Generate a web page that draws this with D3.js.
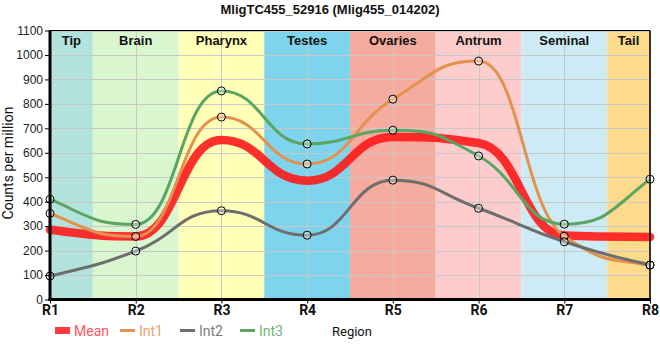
<!DOCTYPE html>
<html>
<head>
<meta charset="utf-8">
<script src="https://cdn.jsdelivr.net/npm/d3@7"></script>
<style>
  body { margin: 0; background: #fff; }
  svg { display: block; }
</style>
</head>
<body>
<svg id="chart" width="660" height="360"></svg>
<script>
const categories = ["R1", "R2", "R3", "R4", "R5", "R6", "R7", "R8"];
const regions = ["Tip", "Brain", "Pharynx", "Testes", "Ovaries", "Antrum", "Seminal", "Tail"];
const regionColors = ["#b3e3dd", "#d9f6cf", "#ffffb8", "#7dd4ec", "#f5ab9d", "#fdcccc", "#cdebf5", "#fdda8c"];
const meanValues = [285, 258, 652, 486, 665, 640, 262, 256];
const int1Values = [352, 258, 746, 554, 819, 975, 259, 140];
const int2Values = [96, 198, 363, 263, 488, 373, 236, 141];
const int3Values = [410, 307, 853, 636, 692, 587, 308, 492];
const yTicks = [0, 100, 200, 300, 400, 500, 600, 700, 800, 900, 1000, 1100];

// monotone smoothing curve with longer bezier handles (wider plateaus)
function SmoothMono(context, k) { this._context = context; this._k = k; }
SmoothMono.prototype = {
  areaStart() { this._line = 0; },
  areaEnd() { this._line = NaN; },
  lineStart() { this._xs = []; this._ys = []; },
  point(x, y) { this._xs.push(+x); this._ys.push(+y); },
  lineEnd() {
    const xs = this._xs, ys = this._ys, n = xs.length, ctx = this._context, k = this._k;
    if (!n) return;
    ctx.moveTo(xs[0], ys[0]);
    if (n === 1) return;
    if (n === 2) { ctx.lineTo(xs[1], ys[1]); return; }
    const s = [], m = [];
    for (let i = 0; i < n - 1; i++) s[i] = (ys[i + 1] - ys[i]) / (xs[i + 1] - xs[i]);
    for (let i = 1; i < n - 1; i++) {
      const h0 = xs[i] - xs[i - 1], h1 = xs[i + 1] - xs[i];
      const p = (s[i - 1] * h1 + s[i] * h0) / (h0 + h1);
      m[i] = (Math.sign(s[i - 1]) + Math.sign(s[i])) * Math.min(Math.abs(s[i - 1]), Math.abs(s[i]), 0.5 * Math.abs(p)) || 0;
    }
    m[0] = (3 * s[0] - m[1]) / 2;
    m[n - 1] = (3 * s[n - 2] - m[n - 2]) / 2;
    for (let i = 0; i < n - 1; i++) {
      const dx = (xs[i + 1] - xs[i]) * k;
      ctx.bezierCurveTo(xs[i] + dx, ys[i] + dx * m[i], xs[i + 1] - dx, ys[i + 1] - dx * m[i + 1], xs[i + 1], ys[i + 1]);
    }
  }
};
const curveSmooth = ctx => new SmoothMono(ctx, 0.48);

(function () {
const svg = d3.select("#chart");
const pLeft = 50, pRight = 650, pTop = 30.5, pBottom = 299.5;

const xi = d3.scaleLinear().domain([0, categories.length - 1]).range([pLeft, pRight]);
const y = d3.scaleLinear().domain([0, 1100]).range([pBottom, pTop]);

// region bands
const bands = svg.append("g");
regions.forEach((r, i) => {
  const x0 = Math.max(pLeft, xi(i - 0.5));
  const x1 = Math.min(pRight, xi(i + 0.5));
  bands.append("rect").attr("x", x0).attr("y", pTop).attr("width", x1 - x0).attr("height", pBottom - pTop)
    .attr("fill", regionColors[i]);
});

// grid
const grid = svg.append("g").attr("stroke", "#c8c8c8").attr("stroke-width", 1);
yTicks.forEach(t => {
  grid.append("line").attr("x1", pLeft).attr("x2", pRight).attr("y1", Math.round(y(t)) + 0.5).attr("y2", Math.round(y(t)) + 0.5);
});
categories.forEach((c, i) => {
  grid.append("line").attr("x1", Math.round(xi(i)) + 0.5).attr("x2", Math.round(xi(i)) + 0.5).attr("y1", pTop).attr("y2", pBottom);
});

// region labels
regions.forEach((r, i) => {
  const x0 = Math.max(pLeft, xi(i - 0.5));
  const x1 = Math.min(pRight, xi(i + 0.5));
  svg.append("text").attr("x", (x0 + x1) / 2).attr("y", 45).attr("text-anchor", "middle")
    .attr("font-family", "Liberation Sans, Arial, sans-serif").attr("font-weight", "bold").attr("font-size", 13)
    .attr("fill", "#111").text(r);
});

// lines
const line = d3.line().x((d, i) => xi(i)).y(d => y(d)).curve(curveSmooth);
const series = [
  { name: "Int1", values: int1Values, color: "#e3914d", width: 3 },
  { name: "Int2", values: int2Values, color: "#6e6e6e", width: 3 },
  { name: "Int3", values: int3Values, color: "#5aa562", width: 3 }
];
svg.append("path").datum(meanValues).attr("d", line).attr("fill", "none")
  .attr("stroke", "#ff1a1a").attr("stroke-opacity", 0.9).attr("stroke-width", 8.5).attr("stroke-linecap", "round");
series.forEach(s => {
  svg.append("path").datum(s.values).attr("d", line).attr("fill", "none")
    .attr("stroke", s.color).attr("stroke-width", s.width);
});
series.forEach(s => {
  svg.append("g").selectAll("circle").data(s.values).join("circle")
    .attr("cx", (d, i) => xi(i)).attr("cy", d => y(d)).attr("r", 4)
    .attr("fill", "#ffffff").attr("fill-opacity", 0.35).attr("stroke", "#000").attr("stroke-width", 1);
});

// frame
svg.append("line").attr("x1", pLeft).attr("x2", pRight).attr("y1", pTop).attr("y2", pTop).attr("stroke", "#000").attr("stroke-width", 1.2);
svg.append("line").attr("x1", pRight).attr("x2", pRight).attr("y1", pTop).attr("y2", pBottom).attr("stroke", "#000").attr("stroke-width", 1.5);

// axes
const yAxis = d3.axisLeft(y).tickValues(yTicks).tickFormat(d3.format("d")).tickSize(5).tickPadding(2);
const gy = svg.append("g").attr("transform", `translate(${pLeft},0)`).call(yAxis);
gy.select(".domain").attr("stroke-width", 3).attr("d", `M0,${pTop}V${pBottom + 1.5}`);
gy.selectAll("text").attr("font-family", "Arial, Liberation Sans, sans-serif").attr("font-size", 12).attr("fill", "#222");

const xAxis = d3.axisBottom(xi).tickValues(d3.range(categories.length)).tickFormat(i => categories[i]).tickSize(4).tickPadding(2);
const gx = svg.append("g").attr("transform", `translate(0,${pBottom})`).call(xAxis);
gx.select(".domain").attr("stroke-width", 3).attr("d", `M${pLeft - 1.5},0H${pRight + 1}`);
gx.selectAll("text").attr("font-family", "Roboto, Arial, sans-serif").attr("font-weight", "bold").attr("font-size", 14).attr("fill", "#111");

// title
svg.append("text").attr("x", 330).attr("y", 14).attr("text-anchor", "middle")
  .attr("font-family", "Liberation Sans, Arial, sans-serif").attr("font-weight", "bold").attr("font-size", 13)
  .attr("fill", "#111").text("MligTC455_52916 (Mlig455_014202)");

// y label
svg.append("text").attr("transform", "translate(13,163) rotate(-90)").attr("text-anchor", "middle")
  .attr("font-family", "Roboto, Arial, sans-serif").attr("font-size", 14).attr("fill", "#111").text("Counts per million");

// legend
const legend = [
  { name: "Mean", color: "#ff3a3a", text: "#ff5560", x: 55, rect: true },
  { name: "Int1", color: "#e3914d", text: "#eea066", x: 120 },
  { name: "Int2", color: "#6e6e6e", text: "#7d7d7d", x: 180 },
  { name: "Int3", color: "#5aa562", text: "#6db574", x: 240 }
];
legend.forEach(l => {
  if (l.rect) {
    svg.append("rect").attr("x", l.x).attr("y", 327).attr("width", 15).attr("height", 7).attr("fill", l.color);
  } else {
    svg.append("line").attr("x1", l.x).attr("x2", l.x + 15).attr("y1", 330.5).attr("y2", 330.5).attr("stroke", l.color).attr("stroke-width", 3);
  }
  svg.append("text").attr("x", l.x + 19).attr("y", 335.5).attr("font-family", "Roboto, Arial, sans-serif")
    .attr("font-size", 14).attr("fill", l.text).text(l.name);
});
svg.append("text").attr("x", 332).attr("y", 335.5).attr("font-family", "Roboto, Arial, sans-serif")
  .attr("font-size", 13).attr("fill", "#111").text("Region");
})();
</script>
</body>
</html>
